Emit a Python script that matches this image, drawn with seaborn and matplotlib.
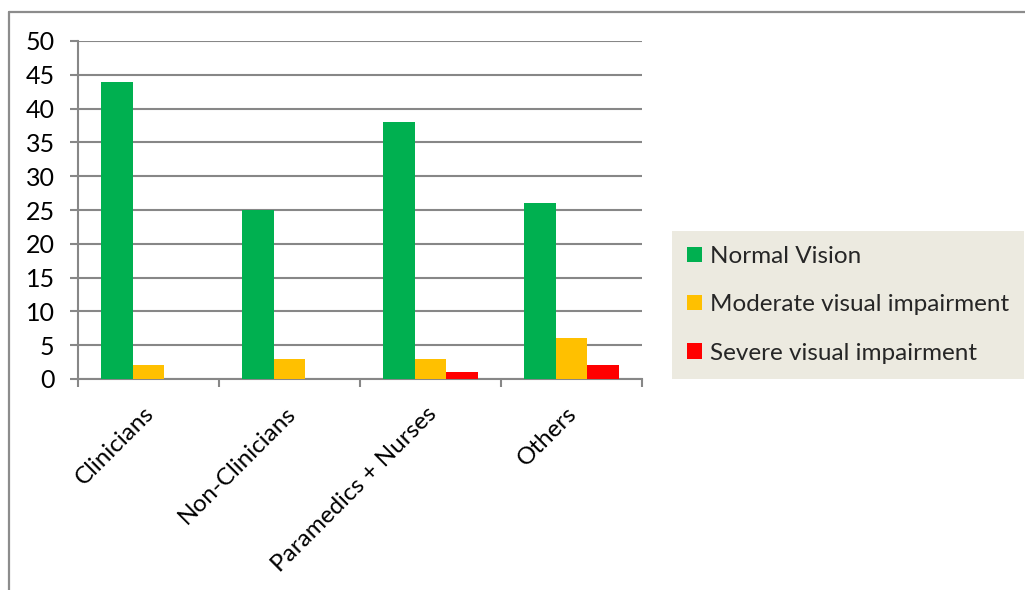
import matplotlib
matplotlib.use("Agg")
import matplotlib.pyplot as plt
import matplotlib.transforms as mtransforms
from matplotlib.patches import Patch
from matplotlib.lines import Line2D
import seaborn as sns
import pandas as pd

# Survey counts by staff group and vision category
groups = ["Clinicians", "Non-Clinicians", "Paramedics + Nurses", "Others"]
series = ["Normal Vision", "Moderate visual impairment", "Severe visual impairment"]
normal_vision = [44, 25, 38, 26]
moderate_impairment = [2, 3, 3, 6]
severe_impairment = [0, 0, 1, 2]
y_ticks = [0, 5, 10, 15, 20, 25, 30, 35, 40, 45, 50]

colors = ["#00B050", "#FFC000", "#FF0000"]
grid_gray = "#878787"
font_size = 17.5

records = []
for name, values in zip(series, [normal_vision, moderate_impairment, severe_impairment]):
    for g, v in zip(groups, values):
        records.append({"group": g, "series": name, "count": v})
df = pd.DataFrame(records)

sns.set_theme(style="white")
plt.rcParams["font.family"] = ["Lato", "DejaVu Sans"]

fig = plt.figure(figsize=(10.25, 5.9), dpi=100)
ax = fig.add_axes([78 / 1025, 1 - 379 / 590, (642 - 78) / 1025, (379 - 41) / 590])

sns.barplot(data=df, x="group", y="count", hue="series", order=groups,
            hue_order=series, palette=colors, width=0.68, saturation=1,
            errorbar=None, ax=ax, legend=False, linewidth=0, zorder=3)

ax.set_xlim(-0.5, len(groups) - 0.5)
ax.set_ylim(0, 50)
ax.set_yticks(y_ticks)
ax.set_yticklabels([str(t) for t in y_ticks], fontsize=18, color="black")
ax.set_xlabel("")
ax.set_ylabel("")

# Horizontal gridlines
ax.yaxis.grid(True, color=grid_gray, linewidth=1.5, zorder=0)
ax.xaxis.grid(False)
ax.set_axisbelow(True)

# Category labels sit at centres; tick marks at category boundaries
ax.set_xticks(range(len(groups)))
ax.set_xticklabels(groups, rotation=45, ha="right", rotation_mode="anchor",
                   fontsize=font_size, color="black")
ax.tick_params(axis="x", which="major", length=0, pad=17)
shift = mtransforms.ScaledTranslation(-5 / 100, 0, fig.dpi_scale_trans)
for lbl in ax.get_xticklabels():
    lbl.set_transform(lbl.get_transform() + shift)
ax.set_xticks([i - 0.5 for i in range(len(groups) + 1)], minor=True)
ax.tick_params(axis="x", which="minor", length=5.8, width=1.5, color=grid_gray,
               direction="out", bottom=True)
ax.tick_params(axis="y", which="major", length=5.8, width=1.5, color=grid_gray,
               direction="out", left=True, pad=11)

for side in ["top", "right"]:
    ax.spines[side].set_visible(False)
for side in ["left", "bottom"]:
    ax.spines[side].set_color(grid_gray)
    ax.spines[side].set_linewidth(1.5)

# Legend panel
handles = [Patch(facecolor=c, edgecolor="none") for c in colors]
leg = fig.legend(handles, series, loc="upper left",
                 bbox_to_anchor=(672 / 1025, 1 - 231 / 590),
                 fontsize=font_size, frameon=True, fancybox=False,
                 handlelength=0.6, handleheight=0.6, handletextpad=0.35,
                 labelspacing=1.12, borderpad=0.62, borderaxespad=0)
frame = leg.get_frame()
frame.set_facecolor("#ECEAE0")
frame.set_edgecolor("none")
frame.set_alpha(1)

# Outer chart frame (top and left edges)
fig.add_artist(Line2D([9 / 1025, 1.0], [1 - 12 / 590, 1 - 12 / 590],
                      color="#8C8C8C", linewidth=1.6, transform=fig.transFigure))
fig.add_artist(Line2D([9 / 1025, 9 / 1025], [0, 1 - 12 / 590],
                      color="#8C8C8C", linewidth=1.6, transform=fig.transFigure))

fig.savefig("out.png", dpi=100, facecolor="white")
